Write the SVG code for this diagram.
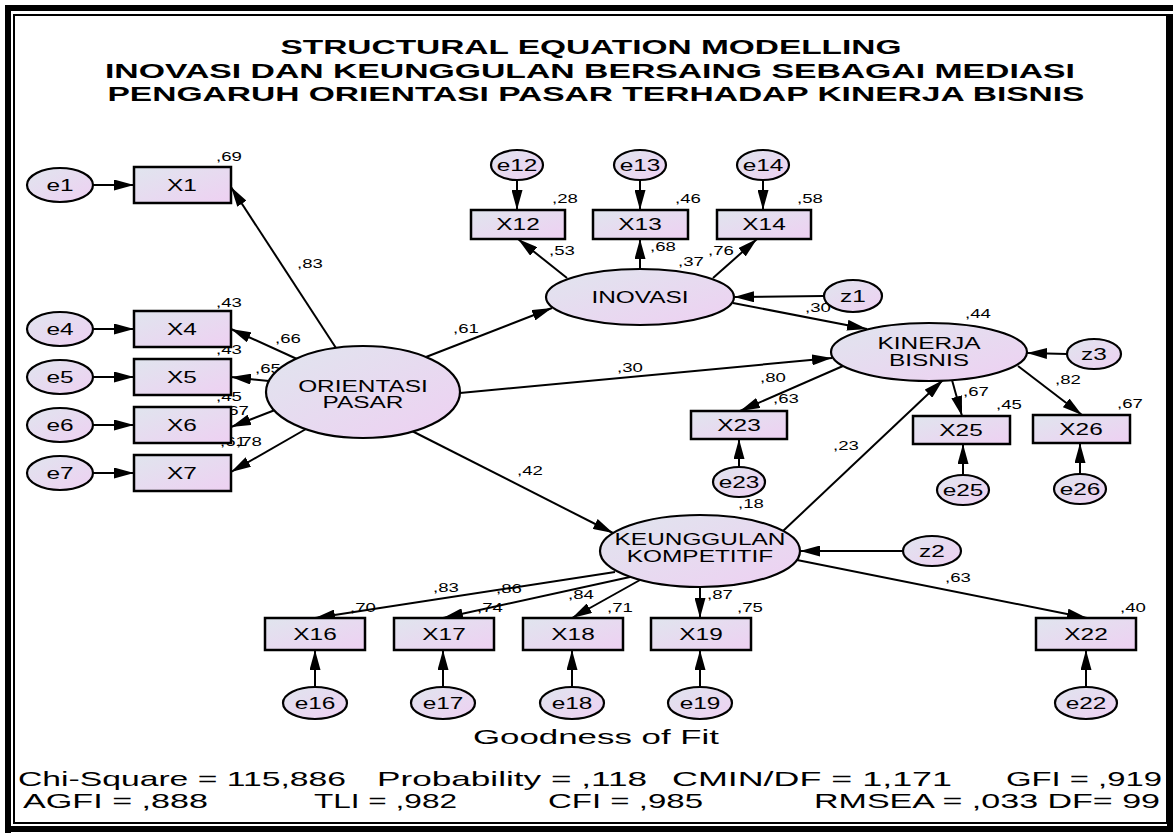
<svg xmlns="http://www.w3.org/2000/svg" width="1173" height="835" viewBox="0 0 1173 835">
<defs>
<linearGradient id="gr" x1="0" y1="0" x2="1" y2="1">
<stop offset="0" stop-color="#e0e5ee"/>
<stop offset="1" stop-color="#eed0f2"/>
</linearGradient>
<marker id="a" markerUnits="userSpaceOnUse" markerWidth="20" markerHeight="11" refX="20" refY="5.5" orient="auto">
<path d="M0,0 L20,5.5 L0,11 Z" fill="#000"/>
</marker>
<style>
.ov{fill:url(#gr);stroke:#000;stroke-width:2.5}
.lv{fill:url(#gr);stroke:#000;stroke-width:2.2}
text{font-family:"Liberation Sans",Arial,sans-serif;fill:#000}
.t{font-size:21px;font-weight:bold;text-anchor:middle}
.n{font-size:16.5px;text-anchor:middle}
.c{font-size:12px}
.f{font-size:21px}
.g{font-size:21px}
#conn line{stroke:#000;stroke-width:2;marker-end:url(#a)}
</style>
</defs>
<rect x="0" y="0" width="1173" height="835" fill="#fff"/>
<g id="frame" fill="#000">
<rect x="5" y="5" width="1168" height="6"/>
<rect x="5" y="5" width="6" height="828"/>
<rect x="5" y="826" width="1168" height="6"/>
<rect x="1167" y="14" width="6" height="818"/>
<rect x="14" y="15" width="1153" height="808" fill="none" stroke="#000" stroke-width="2"/>
</g>
<g id="title">
<text class="t" x="591" y="54" textLength="621" lengthAdjust="spacingAndGlyphs">STRUCTURAL EQUATION MODELLING</text>
<text class="t" x="590" y="78" textLength="970" lengthAdjust="spacingAndGlyphs">INOVASI DAN KEUNGGULAN BERSAING SEBAGAI MEDIASI</text>
<text class="t" x="596" y="101" textLength="977" lengthAdjust="spacingAndGlyphs">PENGARUH ORIENTASI PASAR TERHADAP KINERJA BISNIS</text>
</g>
<g id="conn">
<line x1="93" y1="185" x2="134" y2="185"/>
<line x1="93" y1="329" x2="134" y2="329"/>
<line x1="93" y1="377" x2="134" y2="377"/>
<line x1="93" y1="425" x2="134" y2="425"/>
<line x1="93" y1="473" x2="134" y2="473"/>
<line x1="517" y1="180" x2="517" y2="210"/>
<line x1="640" y1="180" x2="640" y2="210"/>
<line x1="763" y1="180" x2="763" y2="210"/>
<line x1="739" y1="467" x2="739" y2="439"/>
<line x1="963" y1="475" x2="963" y2="444"/>
<line x1="1080" y1="474" x2="1080" y2="443"/>
<line x1="315" y1="687" x2="315" y2="650"/>
<line x1="443" y1="687" x2="443" y2="650"/>
<line x1="572" y1="687" x2="572" y2="650"/>
<line x1="700" y1="687" x2="700" y2="650"/>
<line x1="1086" y1="687" x2="1086" y2="650"/>
<line x1="824" y1="296" x2="734" y2="297"/>
<line x1="1067" y1="354" x2="1027" y2="353"/>
<line x1="903" y1="551" x2="800" y2="551"/>
<line x1="336" y1="348" x2="231" y2="187"/>
<line x1="297" y1="359" x2="231" y2="329"/>
<line x1="269" y1="381" x2="231" y2="377"/>
<line x1="275" y1="410" x2="231" y2="427"/>
<line x1="306" y1="429" x2="231" y2="472"/>
<line x1="426" y1="357" x2="552" y2="308"/>
<line x1="460" y1="393" x2="832" y2="358"/>
<line x1="412" y1="431" x2="613" y2="533"/>
<line x1="567" y1="278" x2="518" y2="239"/>
<line x1="640" y1="269" x2="640" y2="239"/>
<line x1="713" y1="278" x2="757" y2="239"/>
<line x1="733" y1="303" x2="867" y2="329"/>
<line x1="843" y1="366" x2="740" y2="411"/>
<line x1="952" y1="380" x2="962" y2="416"/>
<line x1="1018" y1="366" x2="1082" y2="415"/>
<line x1="783" y1="531" x2="943" y2="380"/>
<line x1="615" y1="572" x2="315" y2="618"/>
<line x1="630" y1="577" x2="443" y2="618"/>
<line x1="640" y1="580" x2="572" y2="618"/>
<line x1="700" y1="587" x2="700" y2="618"/>
<line x1="797" y1="560" x2="1087" y2="618"/>
</g>
<g id="coef" class="c">
<text transform="matrix(1.55 0 0 1 216 161)">,69</text>
<text transform="matrix(1.55 0 0 1 216 307)">,43</text>
<text transform="matrix(1.55 0 0 1 216 354)">,43</text>
<text transform="matrix(1.55 0 0 1 216 401)">,45</text>
<text transform="matrix(1.55 0 0 1 220 446)">,61</text>
<text transform="matrix(1.55 0 0 1 236 446)">,78</text>
<text transform="matrix(1.55 0 0 1 297 268)">,83</text>
<text transform="matrix(1.55 0 0 1 275 343)">,66</text>
<text transform="matrix(1.55 0 0 1 255 373)">,65</text>
<text transform="matrix(1.55 0 0 1 223 415)">,67</text>
<text transform="matrix(1.55 0 0 1 453 333)">,61</text>
<text transform="matrix(1.55 0 0 1 617 372)">,30</text>
<text transform="matrix(1.55 0 0 1 517 475)">,42</text>
<text transform="matrix(1.55 0 0 1 549 255)">,53</text>
<text transform="matrix(1.55 0 0 1 650 251)">,68</text>
<text transform="matrix(1.55 0 0 1 708 255)">,76</text>
<text transform="matrix(1.55 0 0 1 678 266)">,37</text>
<text transform="matrix(1.55 0 0 1 552 203)">,28</text>
<text transform="matrix(1.55 0 0 1 675 203)">,46</text>
<text transform="matrix(1.55 0 0 1 797 203)">,58</text>
<text transform="matrix(1.55 0 0 1 805 312)">,30</text>
<text transform="matrix(1.55 0 0 1 965 318)">,44</text>
<text transform="matrix(1.55 0 0 1 760 382)">,80</text>
<text transform="matrix(1.55 0 0 1 773 403)">,63</text>
<text transform="matrix(1.55 0 0 1 963 396)">,67</text>
<text transform="matrix(1.55 0 0 1 996 409)">,45</text>
<text transform="matrix(1.55 0 0 1 1055 384)">,82</text>
<text transform="matrix(1.55 0 0 1 1117 408)">,67</text>
<text transform="matrix(1.55 0 0 1 833 450)">,23</text>
<text transform="matrix(1.55 0 0 1 738 508)">,18</text>
<text transform="matrix(1.55 0 0 1 945 582)">,63</text>
<text transform="matrix(1.55 0 0 1 1120 612)">,40</text>
<text transform="matrix(1.55 0 0 1 433 592)">,83</text>
<text transform="matrix(1.55 0 0 1 350 612)">,70</text>
<text transform="matrix(1.55 0 0 1 496 593)">,86</text>
<text transform="matrix(1.55 0 0 1 477 612)">,74</text>
<text transform="matrix(1.55 0 0 1 568 599)">,84</text>
<text transform="matrix(1.55 0 0 1 607 612)">,71</text>
<text transform="matrix(1.55 0 0 1 707 599)">,87</text>
<text transform="matrix(1.55 0 0 1 737 612)">,75</text>
</g>
<g id="ORIENTASI_PASAR"><ellipse class="lv" cx="363" cy="392" rx="97" ry="46"/><text class="n" transform="matrix(1.48 0 0 1 363 392)">ORIENTASI</text><text class="n" transform="matrix(1.48 0 0 1 363 408)">PASAR</text></g>
<g id="INOVASI"><ellipse class="lv" cx="640" cy="297" rx="94" ry="28"/><text class="n" transform="matrix(1.48 0 0 1 640 303)">INOVASI</text></g>
<g id="KINERJA_BISNIS"><ellipse class="lv" cx="929" cy="352" rx="98" ry="29"/><text class="n" transform="matrix(1.48 0 0 1 929 349)">KINERJA</text><text class="n" transform="matrix(1.48 0 0 1 929 366)">BISNIS</text></g>
<g id="KEUNGGULAN_KOMPETITIF"><ellipse class="lv" cx="700" cy="551" rx="100" ry="36"/><text class="n" transform="matrix(1.48 0 0 1 700 545)">KEUNGGULAN</text><text class="n" transform="matrix(1.48 0 0 1 700 562)">KOMPETITIF</text></g>
<g id="X1"><rect class="ov" x="134" y="167" width="97" height="36"/><text class="n" transform="matrix(1.48 0 0 1 182 191)">X1</text></g>
<g id="X4"><rect class="ov" x="134" y="311" width="97" height="36"/><text class="n" transform="matrix(1.48 0 0 1 182 335)">X4</text></g>
<g id="X5"><rect class="ov" x="134" y="359" width="97" height="36"/><text class="n" transform="matrix(1.48 0 0 1 182 383)">X5</text></g>
<g id="X6"><rect class="ov" x="134" y="407" width="97" height="36"/><text class="n" transform="matrix(1.48 0 0 1 182 431)">X6</text></g>
<g id="X7"><rect class="ov" x="134" y="455" width="97" height="36"/><text class="n" transform="matrix(1.48 0 0 1 182 479)">X7</text></g>
<g id="X12"><rect class="ov" x="471" y="210" width="94" height="29"/><text class="n" transform="matrix(1.48 0 0 1 518 230)">X12</text></g>
<g id="X13"><rect class="ov" x="593" y="210" width="95" height="29"/><text class="n" transform="matrix(1.48 0 0 1 640 230)">X13</text></g>
<g id="X14"><rect class="ov" x="717" y="210" width="94" height="29"/><text class="n" transform="matrix(1.48 0 0 1 764 230)">X14</text></g>
<g id="X23"><rect class="ov" x="691" y="411" width="96" height="28"/><text class="n" transform="matrix(1.48 0 0 1 739 431)">X23</text></g>
<g id="X25"><rect class="ov" x="913" y="416" width="97" height="28"/><text class="n" transform="matrix(1.48 0 0 1 961 436)">X25</text></g>
<g id="X26"><rect class="ov" x="1033" y="415" width="97" height="28"/><text class="n" transform="matrix(1.48 0 0 1 1081 435)">X26</text></g>
<g id="X16"><rect class="ov" x="265" y="618" width="100" height="32"/><text class="n" transform="matrix(1.48 0 0 1 315 640)">X16</text></g>
<g id="X17"><rect class="ov" x="394" y="618" width="100" height="32"/><text class="n" transform="matrix(1.48 0 0 1 444 640)">X17</text></g>
<g id="X18"><rect class="ov" x="523" y="618" width="100" height="32"/><text class="n" transform="matrix(1.48 0 0 1 573 640)">X18</text></g>
<g id="X19"><rect class="ov" x="651" y="618" width="100" height="32"/><text class="n" transform="matrix(1.48 0 0 1 701 640)">X19</text></g>
<g id="X22"><rect class="ov" x="1036" y="618" width="100" height="32"/><text class="n" transform="matrix(1.48 0 0 1 1086 640)">X22</text></g>
<g id="e1"><ellipse class="lv" cx="60" cy="185" rx="33" ry="17"/><text class="n" transform="matrix(1.48 0 0 1 60 191)">e1</text></g>
<g id="e4"><ellipse class="lv" cx="60" cy="329" rx="33" ry="17"/><text class="n" transform="matrix(1.48 0 0 1 60 335)">e4</text></g>
<g id="e5"><ellipse class="lv" cx="60" cy="377" rx="33" ry="17"/><text class="n" transform="matrix(1.48 0 0 1 60 383)">e5</text></g>
<g id="e6"><ellipse class="lv" cx="60" cy="425" rx="33" ry="17"/><text class="n" transform="matrix(1.48 0 0 1 60 431)">e6</text></g>
<g id="e7"><ellipse class="lv" cx="60" cy="473" rx="33" ry="17"/><text class="n" transform="matrix(1.48 0 0 1 60 479)">e7</text></g>
<g id="e12"><ellipse class="lv" cx="517" cy="165" rx="26" ry="15"/><text class="n" transform="matrix(1.48 0 0 1 517 171)">e12</text></g>
<g id="e13"><ellipse class="lv" cx="640" cy="165" rx="26" ry="15"/><text class="n" transform="matrix(1.48 0 0 1 640 171)">e13</text></g>
<g id="e14"><ellipse class="lv" cx="763" cy="165" rx="26" ry="15"/><text class="n" transform="matrix(1.48 0 0 1 763 171)">e14</text></g>
<g id="z1"><ellipse class="lv" cx="853" cy="296" rx="29" ry="16"/><text class="n" transform="matrix(1.48 0 0 1 853 302)">z1</text></g>
<g id="z3"><ellipse class="lv" cx="1094" cy="354" rx="27" ry="15"/><text class="n" transform="matrix(1.48 0 0 1 1094 360)">z3</text></g>
<g id="z2"><ellipse class="lv" cx="932" cy="551" rx="29" ry="15"/><text class="n" transform="matrix(1.48 0 0 1 932 557)">z2</text></g>
<g id="e23"><ellipse class="lv" cx="739" cy="482" rx="26" ry="15"/><text class="n" transform="matrix(1.48 0 0 1 739 488)">e23</text></g>
<g id="e25"><ellipse class="lv" cx="963" cy="490" rx="26" ry="15"/><text class="n" transform="matrix(1.48 0 0 1 963 496)">e25</text></g>
<g id="e26"><ellipse class="lv" cx="1080" cy="489" rx="26" ry="15"/><text class="n" transform="matrix(1.48 0 0 1 1080 495)">e26</text></g>
<g id="e16"><ellipse class="lv" cx="315" cy="703" rx="32" ry="16"/><text class="n" transform="matrix(1.48 0 0 1 315 709)">e16</text></g>
<g id="e17"><ellipse class="lv" cx="443" cy="703" rx="32" ry="16"/><text class="n" transform="matrix(1.48 0 0 1 443 709)">e17</text></g>
<g id="e18"><ellipse class="lv" cx="572" cy="703" rx="32" ry="16"/><text class="n" transform="matrix(1.48 0 0 1 572 709)">e18</text></g>
<g id="e19"><ellipse class="lv" cx="700" cy="703" rx="32" ry="16"/><text class="n" transform="matrix(1.48 0 0 1 700 709)">e19</text></g>
<g id="e22"><ellipse class="lv" cx="1086" cy="703" rx="31" ry="16"/><text class="n" transform="matrix(1.48 0 0 1 1086 709)">e22</text></g>
<g id="fit">
<text class="g" x="473" y="744" textLength="246" lengthAdjust="spacingAndGlyphs">Goodness of Fit</text>
<text class="f" x="18" y="786" textLength="328" lengthAdjust="spacingAndGlyphs">Chi-Square = 115,886</text>
<text class="f" x="377" y="786" textLength="270" lengthAdjust="spacingAndGlyphs">Probability = ,118</text>
<text class="f" x="672" y="786" textLength="280" lengthAdjust="spacingAndGlyphs">CMIN/DF = 1,171</text>
<text class="f" x="1006" y="786" textLength="156" lengthAdjust="spacingAndGlyphs">GFI = ,919</text>
<text class="f" x="23" y="808" textLength="185" lengthAdjust="spacingAndGlyphs">AGFI = ,888</text>
<text class="f" x="314" y="808" textLength="143" lengthAdjust="spacingAndGlyphs">TLI = ,982</text>
<text class="f" x="548" y="808" textLength="155" lengthAdjust="spacingAndGlyphs">CFI = ,985</text>
<text class="f" x="814" y="808" textLength="346" lengthAdjust="spacingAndGlyphs">RMSEA = ,033 DF= 99</text>
</g>
</svg>
